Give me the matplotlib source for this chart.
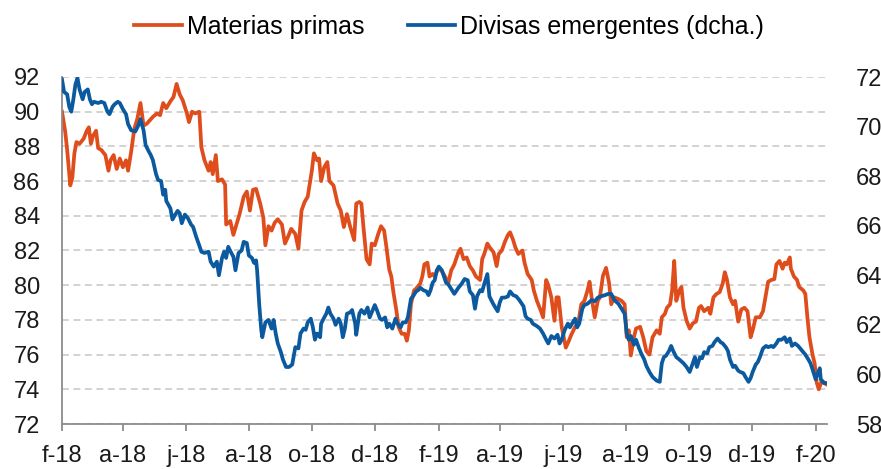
import matplotlib
matplotlib.use("Agg")
import matplotlib.pyplot as plt
import matplotlib.dates as mdates
import matplotlib.ticker as mticker
import pandas as pd

# days counted from 1 Feb 2018
mp_days = [0, 3, 5, 8, 10, 12, 14, 17, 21, 24, 26, 28, 30, 33, 35, 38, 42, 45, 47, 50,
           53, 56, 59, 62, 64, 67, 70, 73, 76, 79, 82, 85, 88, 92, 95, 98, 101, 105, 108, 111,
           114, 117, 121, 123, 126, 129, 133, 135, 138, 142, 144, 146, 149, 151, 155, 158, 159, 163, 166, 169,
           172, 176, 179, 182, 185, 188, 192, 195, 197, 200, 203, 206, 209, 213, 216, 219, 222, 226, 229, 232,
           235, 238, 242, 244, 247, 249, 251, 254, 257, 259, 263, 267, 270, 273, 276, 279, 283, 285, 288, 290,
           292, 295, 298, 300, 303, 306, 309, 312, 314, 317, 319, 321, 324, 326, 329, 332, 334, 336, 338, 341,
           343, 347, 349, 351, 354, 356, 359, 361, 364, 367, 371, 374, 377, 380, 384, 386, 389, 392, 395, 398,
           401, 405, 407, 409, 412, 414, 418, 421, 423, 426, 429, 432, 434, 437, 439, 442, 446, 448, 451, 455,
           457, 460, 464, 466, 469, 471, 474, 477, 479, 481, 484, 486, 488, 491, 493, 497, 500, 503, 506, 509,
           511, 513, 516, 519, 521, 524, 527, 530, 532, 535, 539, 542, 545, 547, 549, 551, 554, 556, 560, 563,
           566, 569, 572, 576, 579, 581, 584, 586, 589, 591, 593, 595, 598, 600, 602, 605, 608, 611, 614, 617,
           619, 622, 626, 628, 631, 634, 637, 640, 642, 644, 647, 650, 652, 655, 658, 661, 664, 667, 669, 672,
           676, 679, 682, 684, 687, 690, 692, 695, 698, 700, 702, 705, 706, 709, 712, 714, 718, 720, 722, 724,
           727, 729, 731, 733, 736, 740]
mp_vals = [90.0, 88.9, 87.8, 85.75, 86.2, 87.6, 88.25, 88.15, 88.45, 88.9, 89.1, 88.15, 88.6, 88.9, 87.9, 87.8, 87.5, 86.6, 87.2, 87.5,
           86.7, 87.3, 86.8, 87.2, 86.6, 87.7, 89.0, 89.6, 90.5, 89.2, 89.3, 89.5, 89.7, 89.9, 89.8, 90.5, 90.2, 90.6, 90.85, 91.6,
           91.0, 90.65, 89.9, 89.4, 90.0, 89.9, 90.0, 87.95, 87.2, 86.6, 87.1, 86.4, 87.5, 86.0, 86.1, 85.8, 83.5, 83.7, 82.9, 83.5,
           84.1, 85.1, 85.4, 84.3, 85.5, 85.55, 84.7, 83.9, 82.3, 83.4, 83.15, 83.6, 83.8, 83.5, 82.4, 82.8, 83.25, 82.95, 82.1, 84.3,
           84.8, 85.1, 86.6, 87.6, 87.2, 87.3, 86.0, 86.8, 87.1, 86.0, 85.75, 84.7, 84.3, 83.35, 84.1, 83.4, 82.6, 84.7, 84.8, 84.7,
           83.35, 81.5, 81.2, 82.4, 82.3, 82.9, 83.4, 83.15, 82.3, 80.9, 80.5, 79.6, 78.5, 77.6, 77.2, 77.2, 76.8, 77.4, 78.9, 79.7,
           79.8, 80.1, 80.5, 81.2, 81.3, 80.5, 80.65, 80.5, 80.9, 80.9, 80.5, 80.1, 80.85, 81.2, 81.9, 82.1, 81.5, 81.6, 81.1, 80.85,
           80.5, 80.3, 81.5, 81.8, 82.4, 82.2, 81.9, 81.1, 81.8, 82.0, 82.5, 82.9, 83.05, 82.6, 82.2, 81.8, 82.0, 81.3, 80.65, 80.3,
           79.7, 79.1, 78.5, 78.15, 80.3, 80.0, 79.3, 77.95, 79.3, 79.3, 77.6, 77.0, 76.4, 76.8, 77.1, 77.6, 77.8, 78.9, 79.1, 79.7,
           80.2, 79.3, 78.15, 79.1, 79.3, 80.55, 81.0, 80.1, 78.9, 79.3, 79.2, 79.1, 78.9, 77.0, 77.4, 75.95, 77.0, 77.5, 77.6, 77.0,
           76.2, 76.0, 77.0, 77.4, 77.2, 78.15, 78.35, 78.7, 78.9, 79.7, 81.4, 79.1, 79.7, 79.9, 78.7, 77.95, 77.5, 77.8, 77.9, 78.7,
           78.8, 78.5, 78.7, 78.35, 79.3, 79.5, 79.6, 80.1, 80.75, 80.35, 79.3, 78.9, 79.1, 77.9, 78.6, 78.7, 78.5, 77.0, 77.4, 78.15,
           78.15, 78.5, 79.5, 80.2, 80.3, 80.35, 81.2, 81.4, 80.95, 81.3, 81.2, 81.6, 80.95, 80.5, 80.3, 79.9, 79.7, 79.5, 78.15, 77.0,
           76.0, 75.5, 74.4, 74.0, 74.5, 74.3]

de_days = [0, 2, 5, 7, 9, 11, 13, 15, 17, 20, 22, 25, 27, 29, 31, 35, 38, 41, 44, 46,
           49, 51, 54, 56, 59, 62, 64, 67, 71, 74, 76, 79, 81, 84, 86, 88, 91, 93, 96, 98,
           100, 101, 105, 107, 109, 112, 114, 116, 119, 122, 125, 127, 130, 133, 135, 138, 142, 144, 147, 150,
           152, 155, 157, 159, 161, 164, 166, 168, 171, 174, 176, 179, 181, 184, 186, 188, 189, 191, 193, 194,
           197, 200, 203, 205, 207, 209, 212, 214, 217, 220, 223, 226, 229, 231, 234, 236, 238, 241, 243, 245,
           247, 250, 251, 254, 256, 258, 260, 263, 265, 268, 270, 272, 274, 276, 279, 281, 284, 285, 288, 290,
           293, 296, 298, 301, 303, 305, 308, 310, 313, 315, 317, 320, 323, 325, 328, 330, 333, 335, 338, 340,
           343, 345, 347, 350, 353, 355, 357, 359, 361, 363, 365, 368, 370, 372, 374, 377, 380, 384, 387, 390,
           393, 395, 398, 400, 402, 405, 407, 409, 412, 414, 417, 419, 422, 424, 426, 429, 432, 434, 437, 440,
           443, 447, 449, 451, 454, 456, 460, 463, 466, 469, 471, 474, 477, 480, 482, 484, 487, 490, 492, 494,
           497, 499, 501, 504, 506, 509, 513, 516, 519, 522, 526, 529, 532, 535, 539, 542, 545, 547, 549, 551,
           554, 556, 559, 561, 564, 566, 569, 572, 576, 579, 581, 583, 585, 588, 590, 592, 595, 598, 602, 605,
           608, 611, 613, 615, 618, 620, 622, 625, 627, 630, 632, 635, 638, 640, 643, 645, 647, 650, 652, 655,
           657, 660, 662, 665, 667, 669, 672, 674, 676, 679, 682, 684, 687, 689, 692, 694, 697, 700, 702, 705,
           707, 710, 713, 715, 718, 720, 723, 725, 727, 730, 732, 734, 735, 738, 740]
de_vals = [71.9, 71.4, 71.3, 70.8, 70.6, 71.1, 71.7, 71.95, 71.5, 71.1, 71.4, 71.5, 71.1, 70.9, 71.0, 70.95, 71.0, 70.95, 70.6, 70.5,
           70.8, 70.9, 71.0, 70.95, 70.7, 70.5, 70.1, 69.85, 69.8, 70.05, 70.3, 69.85, 69.25, 69.0, 68.85, 68.65, 68.1, 67.85, 67.8, 67.25,
           67.45, 67.0, 66.7, 66.25, 66.4, 66.6, 66.5, 66.1, 66.45, 66.3, 66.05, 65.95, 65.55, 65.2, 64.95, 64.9, 64.95, 64.55, 64.35, 64.55,
           64.0, 64.7, 64.95, 64.7, 65.15, 64.9, 64.75, 64.2, 64.9, 65.0, 65.35, 65.3, 64.8, 64.7, 64.5, 64.6, 64.2, 62.85, 61.8, 61.5,
           62.1, 62.2, 61.85, 62.2, 61.65, 61.25, 60.9, 60.6, 60.3, 60.3, 60.4, 61.1, 61.05, 61.65, 61.85, 61.8, 62.1, 62.25, 61.9, 61.4,
           61.65, 61.5, 62.05, 62.3, 62.45, 62.7, 62.45, 62.25, 62.0, 62.25, 62.05, 61.5, 61.85, 62.45, 62.5, 62.6, 62.05, 61.6, 62.45, 62.6,
           62.45, 62.7, 62.3, 62.6, 62.8, 62.6, 62.25, 62.2, 62.3, 61.9, 62.05, 61.85, 62.25, 62.05, 61.9, 62.1, 62.1, 62.3, 63.05, 63.15,
           63.35, 63.4, 63.5, 63.4, 63.35, 63.2, 63.4, 63.7, 63.8, 64.2, 64.35, 64.2, 63.95, 63.7, 63.65, 63.45, 63.25, 63.5, 63.65, 63.85,
           63.8, 63.35, 63.2, 62.65, 63.15, 63.4, 63.35, 63.65, 64.05, 63.15, 62.9, 62.75, 62.55, 62.9, 63.1, 63.1, 63.15, 63.35, 63.2, 63.15,
           63.0, 62.75, 62.35, 62.25, 62.2, 62.05, 61.95, 61.85, 61.65, 61.4, 61.25, 61.55, 61.45, 61.6, 61.25, 61.4, 61.8, 62.05, 61.9, 62.05,
           62.25, 61.9, 62.05, 62.65, 62.8, 62.85, 63.0, 62.95, 63.1, 63.15, 63.2, 63.25, 63.25, 63.0, 62.85, 62.65, 62.45, 61.65, 61.4, 61.55,
           61.2, 61.4, 61.05, 60.85, 60.6, 60.35, 60.1, 59.9, 59.75, 59.7, 60.45, 60.7, 60.75, 60.95, 61.15, 60.95, 60.7, 60.6, 60.45, 60.3,
           60.1, 60.45, 60.7, 60.3, 60.7, 60.65, 60.9, 60.85, 61.1, 61.15, 61.3, 61.45, 61.3, 61.25, 61.1, 60.95, 60.6, 60.3, 60.35, 60.15,
           60.1, 60.05, 59.9, 59.7, 59.85, 60.1, 60.4, 60.5, 60.7, 61.05, 61.15, 61.1, 61.15, 61.1, 61.25, 61.4, 61.4, 61.5, 61.3, 61.45,
           61.15, 61.25, 61.15, 61.05, 60.9, 60.8, 60.6, 60.45, 60.2, 59.8, 60.05, 60.25, 59.8, 59.65, 59.65]

month_letters = {2: "f", 4: "a", 6: "j", 8: "a", 10: "o", 12: "d"}

start = pd.Timestamp("2018-02-01")
mp_dates = start + pd.to_timedelta(mp_days, unit="D")
de_dates = start + pd.to_timedelta(de_days, unit="D")

orange = "#DF4D1C"
blue = "#0B5A9F"
grey = "#8c8c8c"

plt.rcParams["font.family"] = ["Liberation Sans", "DejaVu Sans"]

fig = plt.figure(figsize=(8.81, 4.69), dpi=100)
ax = fig.add_axes([62 / 881, 1 - 424 / 469, (827 - 62) / 881, (424 - 77) / 469])
ax2 = ax.twinx()

l1, = ax.plot(mp_dates, mp_vals, color=orange, lw=2.7, label="Materias primas")
l2, = ax2.plot(de_dates, de_vals, color=blue, lw=2.7, label="Divisas emergentes (dcha.)")

ax.set_xlim(start, start + pd.Timedelta(days=741))
ax.set_ylim(72, 92)
ax2.set_ylim(58, 72)
ax.yaxis.set_major_locator(mticker.MultipleLocator(2))
ax2.yaxis.set_major_locator(mticker.MultipleLocator(2))

ax.xaxis.set_major_locator(mdates.MonthLocator(bymonth=[2, 4, 6, 8, 10, 12]))
ax.xaxis.set_major_formatter(mticker.FuncFormatter(
    lambda v, pos: f"{month_letters[mdates.num2date(v).month]}-{mdates.num2date(v).strftime('%y')}"))

ax.grid(axis="y", color="#c6c6c6", linestyle=(0, (4.5, 3)), lw=1.1)
ax.set_axisbelow(True)

for a in (ax, ax2):
    for s in a.spines.values():
        s.set_visible(False)
ax.spines["left"].set_visible(True)
ax.spines["bottom"].set_visible(True)
ax.spines["left"].set_color(grey)
ax.spines["bottom"].set_color(grey)
ax.spines["left"].set_linewidth(1.3)
ax.spines["bottom"].set_linewidth(1.3)

ax.tick_params(axis="x", colors=grey, length=5, width=1.3, direction="out", pad=10,
               labelsize=17, labelcolor="#1a1a1a")
ax.tick_params(axis="y", length=0, pad=16, labelsize=17, labelcolor="#1a1a1a")
ax2.tick_params(axis="y", length=0, pad=21, labelsize=17, labelcolor="#1a1a1a")

fig.legend(handles=[l1, l2], loc="center", bbox_to_anchor=(0.510, 0.942), ncol=2,
           frameon=False, fontsize=18, handlelength=1.9, handletextpad=0.2,
           columnspacing=1.75)

fig.savefig("out.png", dpi=100)
